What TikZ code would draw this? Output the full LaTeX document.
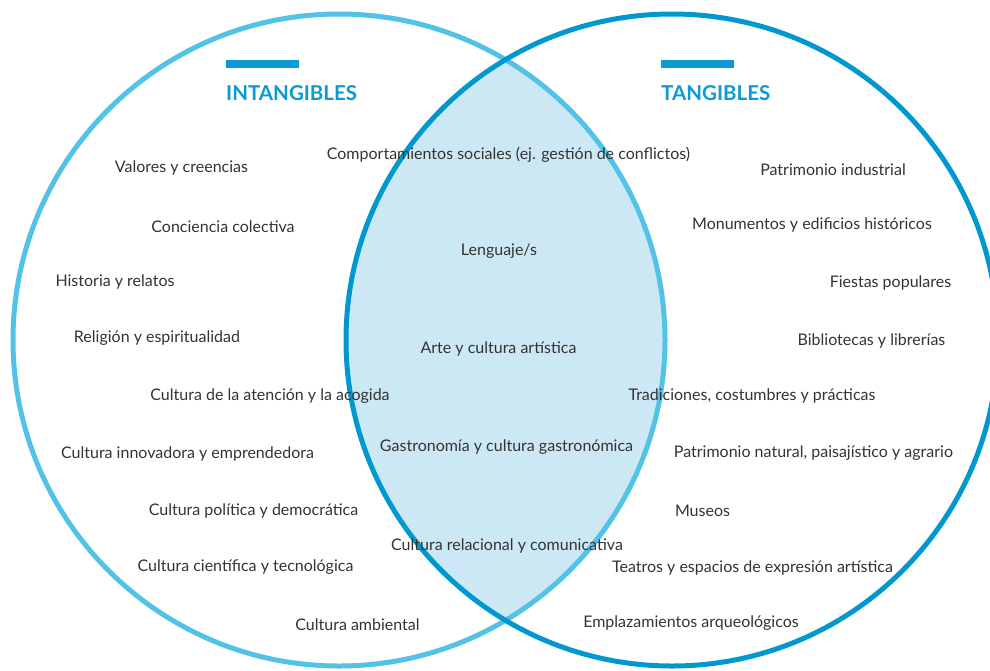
\documentclass[tikz,border=0pt]{standalone}
\usepackage{fontspec}
\setmainfont{Lato}
\definecolor{leftblue}{HTML}{52C3E6}
\definecolor{rightblue}{HTML}{0098CF}
\definecolor{lensblue}{HTML}{CDE8F5}
\definecolor{titleblue}{HTML}{0C9AD4}
\definecolor{textgray}{HTML}{333333}

\begin{document}
\begin{tikzpicture}[x=1pt, y=-1pt,
    every node/.style={font=\fontsize{16}{19}\selectfont, text=textgray, inner sep=0pt, yshift=-1.5pt},
    title/.style={font=\fontsize{20.5}{24}\selectfont\bfseries, text=titleblue, anchor=west},
    titlebar/.style={fill=titleblue},
    ring/.style={line width=5pt}
    ]
    \useasboundingbox (0,0) rectangle (990,670);

    % Overlap
    \begin{scope}
        \clip (339,340) circle [radius=326pt];
        \fill[lensblue] (672,340) circle [radius=326pt];
    \end{scope}

    % Circles
    \draw[ring, leftblue] (339,340) circle [radius=326pt];
    \draw[ring, rightblue] (672,340) circle [radius=326pt];

    % Titles
    \fill[titlebar] (226,60) rectangle (299,68);
    \node[title] (intangibles) at (226,92) {INTANGIBLES};
    \fill[titlebar] (661,60) rectangle (734,68);
    \node[title] (tangibles) at (661,92) {TANGIBLES};

    % Left set
    \node (valores) at (181.5,166) {Valores y creencias};
    \node (conciencia) at (223,225) {Conciencia colectiva};
    \node (historia) at (115,280) {Historia y relatos};
    \node (religion) at (157,337) {Religión y espiritualidad};
    \node (atencion) at (270,395) {Cultura de la atención y la acogida};
    \node (innovadora) at (187.5,452) {Cultura innovadora y emprendedora};
    \node (politica) at (253.5,509) {Cultura política y democrática};
    \node (cientifica) at (245.5,566) {Cultura científica y tecnológica};
    \node (ambiental) at (357.5,623) {Cultura ambiental};

    % Overlap set
    \node (comportamientos) at (508.5,153) {Comportamientos sociales (ej. gestión de conflictos)};
    \node (lenguaje) at (499,250) {Lenguaje/s};
    \node (arte) at (498.5,347) {Arte y cultura artística};
    \node (gastronomia) at (506.5,446) {Gastronomía y cultura gastronómica};
    \node (relacional) at (507,544) {Cultura relacional y comunicativa};

    % Right set
    \node (industrial) at (833,168) {Patrimonio industrial};
    \node (monumentos) at (812,223) {Monumentos y edificios históricos};
    \node (fiestas) at (890.5,281) {Fiestas populares};
    \node (bibliotecas) at (871.5,339) {Bibliotecas y librerías};
    \node (tradiciones) at (752,394) {Tradiciones, costumbres y prácticas};
    \node (natural) at (813.5,452) {Patrimonio natural, paisajístico y agrario};
    \node (museos) at (702.5,509) {Museos};
    \node (teatros) at (752.5,566) {Teatros y espacios de expresión artística};
    \node (emplazamientos) at (691,622) {Emplazamientos arqueológicos};
\end{tikzpicture}
\end{document}
